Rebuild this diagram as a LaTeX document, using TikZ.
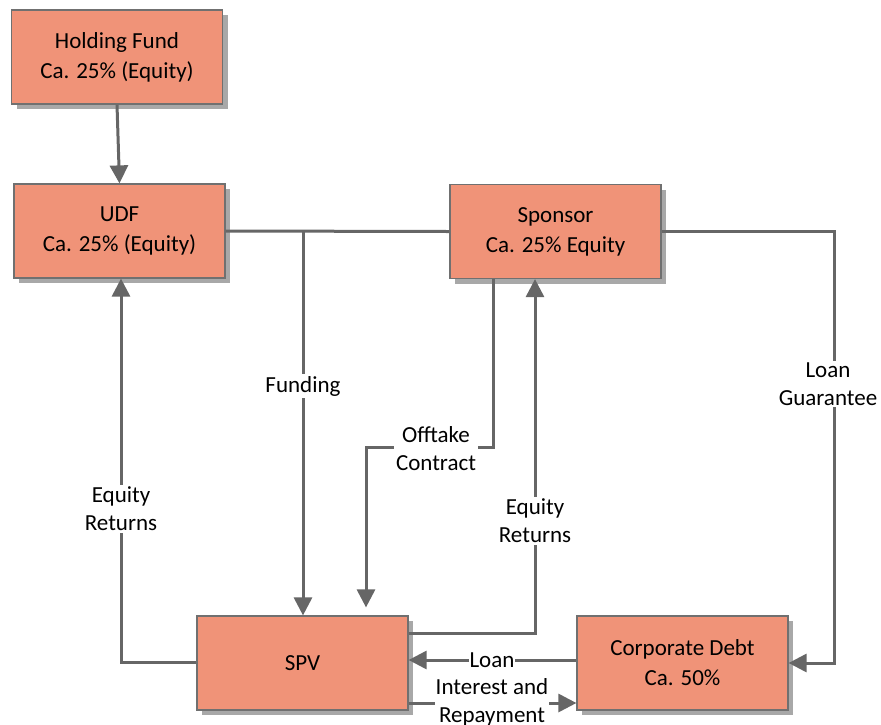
\documentclass[tikz,border=0pt]{standalone}
\usepackage{fontspec}
\setmainfont{Carlito}
\usetikzlibrary{arrows.meta}
\definecolor{boxfill}{RGB}{240,147,120}
\definecolor{boxline}{RGB}{112,112,112}
\definecolor{shadowgray}{RGB}{168,168,168}
\definecolor{wire}{RGB}{102,102,102}
\begin{document}
\begin{tikzpicture}[x=1pt,y=-1pt,
  entity/.style={draw=boxline, line width=1.2pt, fill=boxfill,
    minimum width=211pt, minimum height=94pt, inner sep=0pt,
    align=center, font=\fontsize{23}{30}\selectfont},
  wireline/.style={draw=wire, line width=3pt},
  flow/.style={wireline, -{Triangle[length=18pt,width=18pt]}},
  lbl/.style={fill=white, inner sep=2pt, align=center, font=\fontsize{23}{28}\selectfont}]
\useasboundingbox (0,0) rectangle (881,724);

% drop shadows behind the boxes
\foreach \cx/\cy in {117/57, 119.5/231, 555.5/231.5, 302.5/663, 682.5/663}
  \fill[shadowgray] (\cx-100.5,\cy-42) rectangle (\cx+110.5,\cy+52);

% boxes
\node[entity] (hf)  at (117,57)      {Holding Fund\\Ca. 25\% (Equity)};
\node[entity] (udf) at (119.5,231)   {UDF\\Ca. 25\% (Equity)};
\node[entity] (sp)  at (555.5,231.5) {Sponsor\\Ca. 25\% Equity};
\node[entity] (spv) at (302.5,663)   {SPV};
\node[entity] (cd)  at (682.5,663)   {Corporate Debt\\Ca. 50\%};

% Holding fund to UDF
\draw[flow] (hf.south) -- (udf.north);

% UDF -- Sponsor link with funding branch to the SPV
\draw[wireline] (udf.east) -- (sp.west);
\coordinate (fund) at (303,231.5);
\draw[flow] (fund) -- (fund |- spv.north);
\node[lbl] at (303,386) {Funding};

% loan guarantee from the sponsor to corporate debt
\draw[flow] (sp.east) -- ++(172.5,0) |- (cd.east);
\node[lbl] at (828,384) {Loan\\Guarantee};

% offtake contract from the sponsor to the SPV
\coordinate (off) at ([xshift=-62.5pt]sp.south);
\coordinate (offend) at ([xshift=63.5pt,yshift=8pt]spv.north);
\draw[flow] (off) -- ++(0,168) -| (offend);
\node[lbl] at (436,449) {Offtake\\Contract};

% equity returns from the SPV to the sponsor
\coordinate (eqs) at ([xshift=-20.5pt]sp.south);
\draw[flow] ([yshift=30pt]spv.east) -| (eqs);
\node[lbl] at (535,521) {Equity\\Returns};

% equity returns from the SPV to the UDF
\draw[flow] ([yshift=1pt]spv.west) -| ([xshift=1.5pt]udf.south);
\node[lbl] at (121,509) {Equity\\Returns};

% loan and repayments between corporate debt and the SPV
\draw[flow] ([yshift=3pt]cd.west) -- ([yshift=3pt]spv.east);
\node[lbl, inner sep=1pt] at (492,660) {Loan};
\draw[flow] ([yshift=-40pt]spv.east) -- ([yshift=-40pt]cd.west);
\node[lbl, inner sep=1pt] at (492,702) {Interest and\\Repayment};
\end{tikzpicture}
\end{document}
